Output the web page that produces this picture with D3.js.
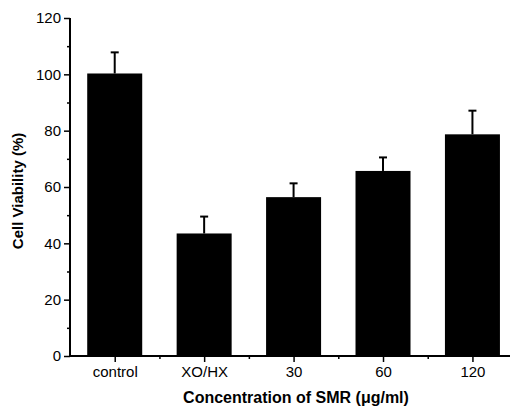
<!DOCTYPE html>
<html>
<head>
<meta charset="utf-8">
<script src="https://cdn.jsdelivr.net/npm/d3@7"></script>
<style>
  body { margin: 0; background: #fff; }
  svg { display: block; font-family: "Liberation Sans", Arial, sans-serif; }
</style>
</head>
<body>
<svg width="515" height="409"></svg>
<script>
// data
var categories = ["control", "XO/HX", "30", "60", "120"];
var viability = [100.3, 43.5, 56.4, 65.7, 78.7];
var errors = [7.5, 6.0, 4.9, 4.8, 8.4];
var yTicks = [0, 20, 40, 60, 80, 100, 120];

var svg = d3.select("svg");

var plotLeft = 70, plotRight = 510, plotTop = 18, plotBottom = 356;

// x as a linear index scale so minor ticks can sit between categories
var x = d3.scaleLinear()
  .domain([0.5, 5.42])
  .range([plotLeft, plotRight]);

var y = d3.scaleLinear()
  .domain([0, 120])
  .range([plotBottom, plotTop]);

var barW = 55;

// bars
svg.selectAll("rect.bar")
  .data(viability)
  .enter()
  .append("rect")
  .attr("class", "bar")
  .attr("x", function(d, i) { return x(i + 1) - barW / 2; })
  .attr("y", function(d) { return y(d); })
  .attr("width", barW)
  .attr("height", function(d) { return y(0) - y(d); })
  .attr("fill", "#000");

// error bars (upper only)
var err = svg.append("g").attr("stroke", "#000").attr("stroke-width", 2);
err.selectAll("line.v")
  .data(viability)
  .enter()
  .append("line")
  .attr("x1", function(d, i) { return x(i + 1); })
  .attr("x2", function(d, i) { return x(i + 1); })
  .attr("y1", function(d) { return y(d); })
  .attr("y2", function(d, i) { return y(d + errors[i]); });
err.selectAll("line.cap")
  .data(viability)
  .enter()
  .append("line")
  .attr("x1", function(d, i) { return x(i + 1) - 4; })
  .attr("x2", function(d, i) { return x(i + 1) + 4; })
  .attr("y1", function(d, i) { return y(d + errors[i]); })
  .attr("y2", function(d, i) { return y(d + errors[i]); });

// y axis
var yAxis = d3.axisLeft(y)
  .tickValues(yTicks)
  .tickSize(6)
  .tickPadding(3);
var gy = svg.append("g")
  .attr("transform", "translate(" + plotLeft + ",0)")
  .call(yAxis);
gy.select(".domain").attr("stroke-width", 2).attr("d", "M0," + plotBottom + "V" + plotTop);
gy.selectAll(".tick line").attr("stroke-width", 1.5);
gy.selectAll(".tick text")
  .attr("font-size", 15)
  .attr("font-family", "Liberation Sans, Arial, sans-serif")
  .attr("fill", "#000");

// minor y ticks
svg.append("g")
  .attr("transform", "translate(" + plotLeft + ",0)")
  .call(d3.axisLeft(y).tickValues([10, 30, 50, 70, 90, 110]).tickSize(3).tickFormat(""))
  .call(function(g) { g.select(".domain").remove(); })
  .selectAll(".tick line").attr("stroke-width", 1.5);

// x axis
var xAxis = d3.axisBottom(x)
  .tickValues([1, 2, 3, 4, 5])
  .tickSize(6)
  .tickPadding(4)
  .tickFormat(function(d) { return categories[d - 1]; });
var gx = svg.append("g")
  .attr("transform", "translate(0," + plotBottom + ")")
  .call(xAxis);
gx.select(".domain").attr("stroke-width", 2).attr("d", "M" + plotLeft + ",0H" + plotRight);
gx.selectAll(".tick line").attr("stroke-width", 1.5);
gx.selectAll(".tick text")
  .attr("font-size", 15)
  .attr("font-family", "Liberation Sans, Arial, sans-serif")
  .attr("fill", "#000");

// minor x ticks
svg.append("g")
  .attr("transform", "translate(0," + plotBottom + ")")
  .call(d3.axisBottom(x).tickValues([1.5, 2.5, 3.5, 4.5]).tickSize(3).tickFormat(""))
  .call(function(g) { g.select(".domain").remove(); })
  .selectAll(".tick line").attr("stroke-width", 1.5);

// axis titles
svg.append("text")
  .attr("x", (plotLeft + plotRight) / 2 + 6)
  .attr("y", 403)
  .attr("text-anchor", "middle")
  .attr("font-size", 16)
  .attr("font-weight", "bold")
  .text("Concentration of SMR (\u03bcg/ml)");

svg.append("text")
  .attr("transform", "translate(23,191) rotate(-90)")
  .attr("text-anchor", "middle")
  .attr("font-size", 15)
  .attr("font-weight", "bold")
  .text("Cell Viability (%)");
</script>
</body>
</html>
